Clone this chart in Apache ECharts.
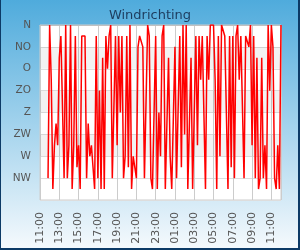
<!DOCTYPE html>
<html>
<head>
<meta charset="utf-8">
<script src="https://cdn.jsdelivr.net/npm/echarts@6/dist/echarts.min.js"></script>
<style>
  html, body { margin: 0; padding: 0; background: #fff; }
  #wrap { position: relative; width: 300px; height: 250px; }
  #chart { width: 300px; height: 250px; }
  #frame { position: absolute; left: 0; top: 0; width: 300px; height: 250px; box-sizing: border-box;
           border-left: 1px solid #0c3a66; border-right: 2px solid #0c3a66; border-bottom: 2px solid #0c3a66;
           pointer-events: none; }
</style>
</head>
<body>
<div id="wrap"><div id="chart"></div><div id="frame"></div></div>
<script>
const chartTitle = 'Windrichting';
// compass labels for 0,45,...,315 degrees (Dutch)
const dirLabels = ['N', 'NO', 'O', 'ZO', 'Z', 'ZW', 'W', 'NW'];
// x tick labels, every 2 hours from 11:00
const timeLabels = ['11:00', '13:00', '15:00', '17:00', '19:00', '21:00', '23:00',
                    '01:00', '03:00', '05:00', '07:00', '09:00', '11:00'];
// first sample at 11:50, then every 10 minutes (hours after 11:00)
const firstSampleHour = 50 / 60;
const stepHours = 10 / 60;
// wind direction in degrees
const windDeg = [
  315, 0, 112.5, 337.5, 247.5, 202.5, 247.5, 67.5, 22.5, 22.5, 315, 0, 315, 247.5, 0, 337.5, 247.5, 22.5, 292.5, 247.5, 337.5, 22.5, 22.5, 22.5, 315,
  202.5, 270, 247.5, 292.5, 337.5, 22.5, 315, 135, 337.5, 67.5, 337.5, 22.5, 90, 22.5, 0, 315, 315, 22.5, 247.5, 22.5, 180, 22.5, 315, 270, 22.5, 292.5, 0, 337.5, 270, 270,
  315, 45, 22.5, 22.5, 45, 315, 315, 0, 22.5, 315, 337.5, 337.5, 22.5, 337.5, 180, 270, 22.5, 0, 337.5, 337.5, 67.5, 270, 337.5, 337.5, 45, 315, 315, 22.5, 292.5, 0,
  225, 0, 337.5, 337.5, 67.5, 337.5, 337.5, 22.5, 247.5, 22.5, 112.5, 22.5, 180, 337.5, 22.5, 112.5, 0, 0, 0, 112.5, 337.5, 22.5, 270, 0, 0, 22.5, 22.5, 337.5, 22.5, 292.5,
  22.5, 315, 22.5, 0, 112.5, 22.5, 22.5, 315, 22.5, 22.5, 45, 0, 247.5, 22.5, 315, 67.5, 337.5, 315, 67.5, 315, 247.5, 337.5, 0, 135, 0, 45, 315, 337.5, 247.5, 337.5, 0
];
// shaded bands (degrees)
const bandRanges = [[45, 90], [135, 180], [225, 270]];

const seriesData = windDeg.map((d, i) => [firstSampleHour + i * stepHours, d]);

const chart = echarts.init(document.getElementById('chart'), null, { renderer: 'canvas' });
chart.setOption({
  animation: false,
  backgroundColor: {
    type: 'linear', x: 0, y: 0, x2: 0, y2: 1,
    colorStops: [{ offset: 0, color: '#4fabdc' }, { offset: 1, color: '#f6fafd' }]
  },
  title: {
    text: chartTitle, left: 'center', top: 4,
    textStyle: { fontFamily: 'DejaVu Sans', fontSize: 13, fontWeight: 'normal', color: '#1d3c5e' }
  },
  grid: {
    left: 40, right: 19, top: 25, bottom: 50,
    show: true, backgroundColor: '#ffffff', borderColor: '#cccccc', borderWidth: 1
  },
  xAxis: {
    type: 'value', min: 0, max: 25, interval: 2,
    axisLine: { show: true, lineStyle: { color: '#c0c0c0' } },
    axisTick: { show: false },
    splitLine: { show: true, lineStyle: { color: '#cccccc', width: 1 } },
    axisLabel: {
      rotate: 90, margin: 12, color: '#555', fontFamily: 'DejaVu Sans', fontSize: 11,
      formatter: v => (v % 2 === 0 && v / 2 < timeLabels.length) ? timeLabels[v / 2] : ''
    }
  },
  yAxis: {
    type: 'value', inverse: true, min: 0, max: 360, interval: 45,
    axisLine: { show: false }, axisTick: { show: false },
    splitLine: { show: true, lineStyle: { color: '#dddddd', width: 1 } },
    axisLabel: {
      margin: 9, color: '#555', fontFamily: 'DejaVu Sans', fontSize: 10.5,
      formatter: v => (v % 45 === 0 && v / 45 < dirLabels.length) ? dirLabels[v / 45] : ''
    }
  },
  series: [{
    type: 'line', data: seriesData, showSymbol: false, smooth: false,
    lineStyle: { color: '#ff0000', width: 1.5 },
    itemStyle: { color: '#ff0000' },
    markArea: {
      silent: true,
      itemStyle: { color: 'rgba(0,0,0,0.05)' },
      data: bandRanges.map(r => [{ yAxis: r[0] }, { yAxis: r[1] }])
    }
  }]
});
</script>
</body>
</html>
